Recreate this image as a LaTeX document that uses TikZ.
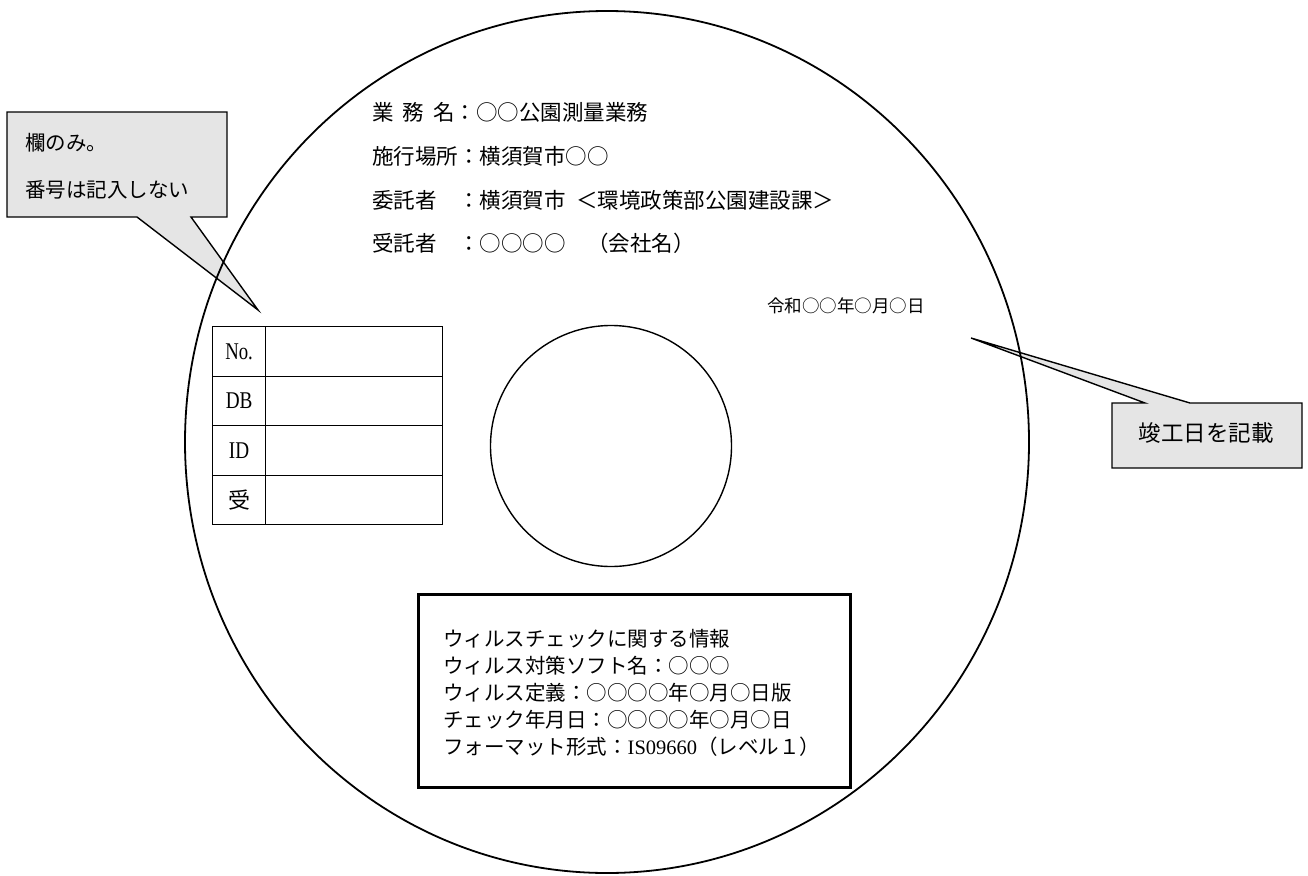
\documentclass[tikz,border=0pt]{standalone}
\usepackage{fontspec}
\setmainfont{Noto Sans CJK JP}
\newfontfamily\jpfont{Noto Sans CJK JP}
\newfontfamily\latinserif{Liberation Serif}
\usetikzlibrary{shapes.geometric}
\begin{document}
\begin{tikzpicture}[x=1pt,y=-1pt,
  callout/.style={draw=black, line width=1.4pt, fill=black!10, line join=miter},
  jp/.style={anchor=west, inner sep=0pt, font=\fontsize{21.5}{21.5}\selectfont},
  jpsmall/.style={anchor=west, inner sep=0pt, font=\fontsize{20.5}{20.5}\selectfont},
  cell/.style={draw=black, line width=1.2pt, minimum width=#1, minimum height=49.5pt, inner sep=0pt, anchor=north west},
  celltext/.style={inner sep=0pt, font=\latinserif\fontsize{24}{24}\selectfont}
]
\useasboundingbox (0,0) rectangle (1308,875);

% --- callouts (drawn first; the disc line runs over their pointers)
\coordinate (ltip) at (258,310);
\coordinate (rtip) at (971,338);
\draw[callout] (7,112) -- (227,112) -- (227,217) -- (191,217) -- (ltip) -- (137,217) -- (7,217) -- cycle;
\node[jpsmall] (l1) at (25,143) {欄のみ。};
\node[jpsmall] (l2) at (25,190) {番号は記入しない};

\draw[callout] (1112,403) -- (1145,403) -- (rtip) -- (1190,403) -- (1302,403) -- (1302,468) -- (1112,468) -- cycle;
\node[inner sep=0pt, font=\fontsize{22.5}{22.5}\selectfont] (r1) at (1206,433) {竣工日を記載};

% --- disc
\node[ellipse, draw=black, line width=1.8pt, minimum width=844pt, minimum height=862pt, inner sep=0pt] (disc) at (607,442) {};
\node[circle, draw=black, line width=1.4pt, minimum size=241pt, inner sep=0pt] (hole) at (611,446) {};

% --- header texts
\node[jp] (t1) at (372,112) {業\hspace{0.42em}務\hspace{0.42em}名：○○公園測量業務};
\node[jp] (t2) at (372,156) {施行場所：横須賀市○○};
\node[jp] (t3) at (372,200) {委託者\hspace{1em}：横須賀市\hspace{0.5em}＜環境政策部公園建設課＞};
\node[jp] (t4) at (372,243) {受託者\hspace{1em}：○○○○\hspace{1em}（会社名）};
\node[anchor=east, inner sep=0pt, font=\fontsize{17.5}{17.5}\selectfont] (date) at (925,306) {令和○○年○月○日};

% --- ID table
\foreach \r/\lab [count=\i from 0] in {No/{\scalebox{0.78}[1]{No.}}, DB/{\scalebox{0.8}[1]{DB}}, ID/{\scalebox{0.8}[1]{ID}}, U/{\jpfont\fontsize{22}{22}\selectfont 受}} {
  \node[cell=53pt] (k\r) at (212,326+49.5*\i) {};
  \node[cell=177pt] (v\r) at (265,326+49.5*\i) {};
  \node[celltext] at (k\r.center) {\lab};
}

% --- virus check box
\node[draw=black, line width=3pt, minimum width=432pt, minimum height=193pt, inner sep=0pt] (vbox) at (634,690.5) {};
\node[jpsmall, anchor=west] (v1) at (443,639) {ウィルスチェックに関する情報};
\node[jpsmall, anchor=west] (v2) at (443,666) {ウィルス対策ソフト名：○○○};
\node[jpsmall, anchor=west] (v3) at (443,693) {ウィルス定義：○○○○年○月○日版};
\node[jpsmall, anchor=west] (v4) at (443,720) {チェック年月日：○○○○年○月○日};
\node[jpsmall, anchor=west] (v5) at (443,747) {フォーマット形式：{\latinserif IS09660}（レベル１）};
\end{tikzpicture}
\end{document}
